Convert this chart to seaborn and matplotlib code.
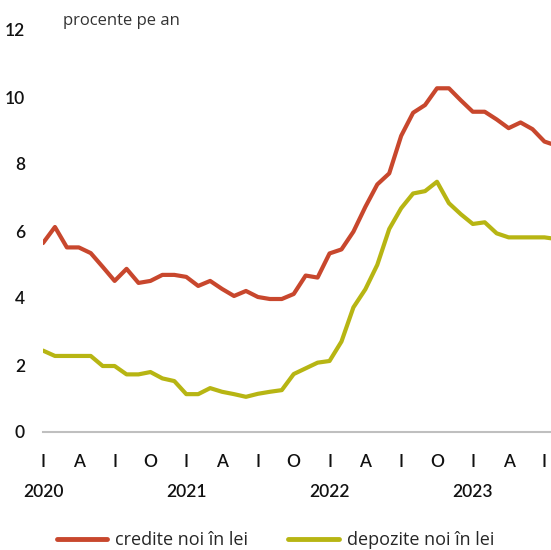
import numpy as np
import pandas as pd
import seaborn as sns
import matplotlib.pyplot as plt
from matplotlib.lines import Line2D

# monthly series, Jan 2020 .. Aug 2023
months = pd.date_range("2020-01-01", "2023-08-01", freq="MS")

credite = [5.64, 6.12, 5.51, 5.51, 5.34, 4.93, 4.51, 4.87, 4.45, 4.51, 4.69, 4.69,
           4.63, 4.36, 4.51, 4.27, 4.06, 4.21, 4.03, 3.97, 3.97, 4.12, 4.67, 4.61,
           5.33, 5.45, 5.98, 6.72, 7.39, 7.72, 8.84, 9.53, 9.76, 10.26, 10.26, 9.90,
           9.56, 9.56, 9.33, 9.07, 9.24, 9.04, 8.67, 8.55]

depozite = [2.43, 2.27, 2.27, 2.27, 2.27, 1.97, 1.97, 1.72, 1.72, 1.79, 1.60, 1.52,
            1.13, 1.13, 1.31, 1.20, 1.13, 1.05, 1.14, 1.20, 1.25, 1.73, 1.90, 2.07,
            2.12, 2.70, 3.72, 4.26, 4.99, 6.06, 6.68, 7.12, 7.19, 7.47, 6.83, 6.50,
            6.21, 6.26, 5.93, 5.81, 5.81, 5.81, 5.81, 5.76]

series_names = ["credite noi în lei", "depozite noi în lei"]
quarter_labels = ["I", "A", "I", "O"]
years = ["2020", "2021", "2022", "2023"]
colors = ["#C8472D", "#B7B513"]

df = pd.DataFrame({
    "t": np.tile(np.arange(len(months)), 2),
    "val": credite + depozite,
    "serie": np.repeat(series_names, len(months)),
})

sns.set_style("white")
plt.rcParams["font.family"] = ["Lato", "DejaVu Sans"]

fig = plt.figure(figsize=(5.51, 5.50), dpi=100)
ax = fig.add_axes([43 / 551, 1 - 432 / 550, 1 - 43 / 551, 402 / 550])

sns.lineplot(data=df, x="t", y="val", hue="serie", palette=colors, lw=3,
             legend=False, ax=ax)

ax.set_xlim(0, 42.55)
ax.set_ylim(0, 12)
ax.set_xlabel("")
ax.set_ylabel("")

# y axis: labels only
ax.set_yticks(range(0, 13, 2))
ax.tick_params(axis="y", length=0, pad=13, labelsize=12.5, labelcolor="#111111")
for lab in ax.get_yticklabels():
    lab.set_fontweight("semibold")

# x axis: quarterly ticks
qt = np.arange(0, 43, 3)
ax.set_xticks(qt)
ax.set_xticklabels([quarter_labels[i % 4] for i in range(len(qt))])
ax.tick_params(axis="x", length=5, width=1.2, color="#BFBFBF", pad=11,
               labelsize=12.5, labelcolor="#111111")
for lab in ax.get_xticklabels():
    lab.set_fontweight("semibold")

for i, y in enumerate(years):
    ax.text(i * 12, -0.15, y, transform=ax.get_xaxis_transform(),
            ha="center", va="center", fontsize=12.5, color="#111111",
            fontweight="semibold")

for s in ["top", "right", "left"]:
    ax.spines[s].set_visible(False)
ax.spines["bottom"].set_color("#BFBFBF")
ax.spines["bottom"].set_linewidth(1.5)

fig.text(63 / 551, 1 - 21 / 550, "procente pe an", fontsize=12,
         color="#333333", va="center", ha="left", family=["Open Sans", "DejaVu Sans"])

handles = [Line2D([], [], color=c, lw=3.5) for c in colors]
fig.legend(handles, series_names, loc="center", bbox_to_anchor=(0.5, 1 - 540 / 550),
           ncol=2, frameon=False, handlelength=2.8, handletextpad=0.45,
           columnspacing=2.2, prop={"family": ["Open Sans", "DejaVu Sans"], "size": 13})

fig.savefig("out.png", dpi=100)
